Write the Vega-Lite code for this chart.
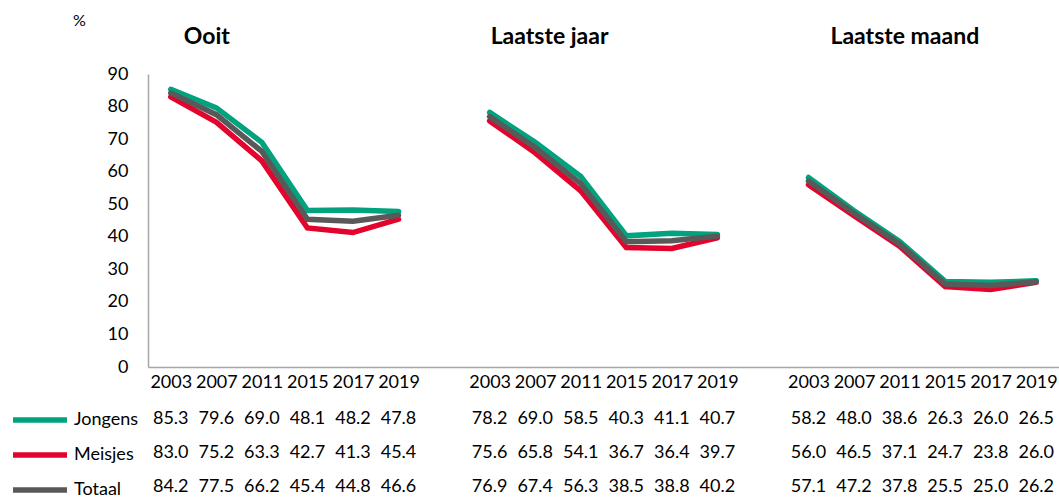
{
  "$schema": "https://vega.github.io/schema/vega-lite/v6.json",
  "background": "white",
  "padding": {"left": 10, "top": 12, "right": 0, "bottom": 0},
  "bounds": "flush",
  "spacing": 52,
  "config": {
    "font": "Lato",
    "view": {"stroke": null},
    "axis": {"grid": false, "ticks": false, "tickSize": 0, "domainColor": "#A6A6A6", "domainWidth": 1.5, "labelColor": "#000000", "labelFontSize": 18, "labelFont": "Lato"},
    "text": {"font": "Lato", "color": "#000000"}
  },
  "datasets": {
    "values": [
      {"group": "Ooit", "year": "2003", "series": "Jongens", "value": 85.3},
      {"group": "Ooit", "year": "2007", "series": "Jongens", "value": 79.6},
      {"group": "Ooit", "year": "2011", "series": "Jongens", "value": 69.0},
      {"group": "Ooit", "year": "2015", "series": "Jongens", "value": 48.1},
      {"group": "Ooit", "year": "2017", "series": "Jongens", "value": 48.2},
      {"group": "Ooit", "year": "2019", "series": "Jongens", "value": 47.8},
      {"group": "Laatste jaar", "year": "2003", "series": "Jongens", "value": 78.2},
      {"group": "Laatste jaar", "year": "2007", "series": "Jongens", "value": 69.0},
      {"group": "Laatste jaar", "year": "2011", "series": "Jongens", "value": 58.5},
      {"group": "Laatste jaar", "year": "2015", "series": "Jongens", "value": 40.3},
      {"group": "Laatste jaar", "year": "2017", "series": "Jongens", "value": 41.1},
      {"group": "Laatste jaar", "year": "2019", "series": "Jongens", "value": 40.7},
      {"group": "Laatste maand", "year": "2003", "series": "Jongens", "value": 58.2},
      {"group": "Laatste maand", "year": "2007", "series": "Jongens", "value": 48.0},
      {"group": "Laatste maand", "year": "2011", "series": "Jongens", "value": 38.6},
      {"group": "Laatste maand", "year": "2015", "series": "Jongens", "value": 26.3},
      {"group": "Laatste maand", "year": "2017", "series": "Jongens", "value": 26.0},
      {"group": "Laatste maand", "year": "2019", "series": "Jongens", "value": 26.5},
      {"group": "Ooit", "year": "2003", "series": "Meisjes", "value": 83.0},
      {"group": "Ooit", "year": "2007", "series": "Meisjes", "value": 75.2},
      {"group": "Ooit", "year": "2011", "series": "Meisjes", "value": 63.3},
      {"group": "Ooit", "year": "2015", "series": "Meisjes", "value": 42.7},
      {"group": "Ooit", "year": "2017", "series": "Meisjes", "value": 41.3},
      {"group": "Ooit", "year": "2019", "series": "Meisjes", "value": 45.4},
      {"group": "Laatste jaar", "year": "2003", "series": "Meisjes", "value": 75.6},
      {"group": "Laatste jaar", "year": "2007", "series": "Meisjes", "value": 65.8},
      {"group": "Laatste jaar", "year": "2011", "series": "Meisjes", "value": 54.1},
      {"group": "Laatste jaar", "year": "2015", "series": "Meisjes", "value": 36.7},
      {"group": "Laatste jaar", "year": "2017", "series": "Meisjes", "value": 36.4},
      {"group": "Laatste jaar", "year": "2019", "series": "Meisjes", "value": 39.7},
      {"group": "Laatste maand", "year": "2003", "series": "Meisjes", "value": 56.0},
      {"group": "Laatste maand", "year": "2007", "series": "Meisjes", "value": 46.5},
      {"group": "Laatste maand", "year": "2011", "series": "Meisjes", "value": 37.1},
      {"group": "Laatste maand", "year": "2015", "series": "Meisjes", "value": 24.7},
      {"group": "Laatste maand", "year": "2017", "series": "Meisjes", "value": 23.8},
      {"group": "Laatste maand", "year": "2019", "series": "Meisjes", "value": 26.0},
      {"group": "Ooit", "year": "2003", "series": "Totaal", "value": 84.2},
      {"group": "Ooit", "year": "2007", "series": "Totaal", "value": 77.5},
      {"group": "Ooit", "year": "2011", "series": "Totaal", "value": 66.2},
      {"group": "Ooit", "year": "2015", "series": "Totaal", "value": 45.4},
      {"group": "Ooit", "year": "2017", "series": "Totaal", "value": 44.8},
      {"group": "Ooit", "year": "2019", "series": "Totaal", "value": 46.6},
      {"group": "Laatste jaar", "year": "2003", "series": "Totaal", "value": 76.9},
      {"group": "Laatste jaar", "year": "2007", "series": "Totaal", "value": 67.4},
      {"group": "Laatste jaar", "year": "2011", "series": "Totaal", "value": 56.3},
      {"group": "Laatste jaar", "year": "2015", "series": "Totaal", "value": 38.5},
      {"group": "Laatste jaar", "year": "2017", "series": "Totaal", "value": 38.8},
      {"group": "Laatste jaar", "year": "2019", "series": "Totaal", "value": 40.2},
      {"group": "Laatste maand", "year": "2003", "series": "Totaal", "value": 57.1},
      {"group": "Laatste maand", "year": "2007", "series": "Totaal", "value": 47.2},
      {"group": "Laatste maand", "year": "2011", "series": "Totaal", "value": 37.8},
      {"group": "Laatste maand", "year": "2015", "series": "Totaal", "value": 25.5},
      {"group": "Laatste maand", "year": "2017", "series": "Totaal", "value": 25.0},
      {"group": "Laatste maand", "year": "2019", "series": "Totaal", "value": 26.2}
    ],
    "titles": [
      {"group": "Ooit", "year": "2003", "label": "Ooit"},
      {"group": "Laatste jaar", "year": "2003", "label": "Laatste jaar"},
      {"group": "Laatste maand", "year": "2003", "label": "Laatste maand"}
    ]
  },
  "vconcat": [
    {
      "width": 911,
      "height": 293,
      "layer": [
        {
          "data": {"name": "values"},
          "transform": [
            {"calculate": "datum.group + '|' + datum.year", "as": "cat"},
            {"filter": "datum.series === 'Meisjes'"}
          ],
          "mark": {"type": "line", "strokeWidth": 5.5, "strokeCap": "round", "strokeJoin": "miter"},
          "encoding": {
            "x": {"field": "cat", "type": "ordinal"},
            "y": {"field": "value", "type": "quantitative"},
            "detail": {"field": "group"}
          }
        },
        {
          "data": {"name": "values"},
          "transform": [
            {"calculate": "datum.group + '|' + datum.year", "as": "cat"},
            {"filter": "datum.series === 'Jongens'"}
          ],
          "mark": {"type": "line", "strokeWidth": 5.5, "strokeCap": "round", "strokeJoin": "miter"},
          "encoding": {
            "x": {"field": "cat", "type": "ordinal"},
            "y": {"field": "value", "type": "quantitative"},
            "detail": {"field": "group"}
          }
        },
        {
          "data": {"name": "values"},
          "transform": [
            {"calculate": "datum.group + '|' + datum.year", "as": "cat"},
            {"filter": "datum.series === 'Totaal'"}
          ],
          "mark": {"type": "line", "strokeWidth": 5.5, "strokeCap": "round", "strokeJoin": "miter"},
          "encoding": {
            "x": {"field": "cat", "type": "ordinal"},
            "y": {"field": "value", "type": "quantitative"},
            "detail": {"field": "group"}
          }
        },
        {
          "data": {"name": "titles"},
          "transform": [
            {"calculate": "datum.group + '|' + datum.year", "as": "cat"},
            {"filter": "datum.group === 'Ooit'"}
          ],
          "mark": {"type": "text", "fontWeight": "bold", "fontSize": 23, "align": "left", "baseline": "middle", "dx": 13},
          "encoding": {
            "x": {"field": "cat", "type": "ordinal"},
            "y": {"datum": 101.5},
            "text": {"field": "label"},
            "color": {"value": "#000000"}
          }
        },
        {
          "data": {"name": "titles"},
          "transform": [
            {"calculate": "datum.group + '|' + datum.year", "as": "cat"},
            {"filter": "datum.group === 'Laatste jaar'"}
          ],
          "mark": {"type": "text", "fontWeight": "bold", "fontSize": 23, "align": "left", "baseline": "middle", "dx": 1},
          "encoding": {
            "x": {"field": "cat", "type": "ordinal"},
            "y": {"datum": 101.5},
            "text": {"field": "label"},
            "color": {"value": "#000000"}
          }
        },
        {
          "data": {"name": "titles"},
          "transform": [
            {"calculate": "datum.group + '|' + datum.year", "as": "cat"},
            {"filter": "datum.group === 'Laatste maand'"}
          ],
          "mark": {"type": "text", "fontWeight": "bold", "fontSize": 23, "align": "left", "baseline": "middle", "dx": 22},
          "encoding": {
            "x": {"field": "cat", "type": "ordinal"},
            "y": {"datum": 101.5},
            "text": {"field": "label"},
            "color": {"value": "#000000"}
          }
        }
      ],
      "encoding": {
        "x": {
          "field": "cat", "type": "ordinal",
          "scale": {"type": "point", "padding": 0.5, "domain": ["Ooit|2003", "Ooit|2007", "Ooit|2011", "Ooit|2015", "Ooit|2017", "Ooit|2019", "gap1", "Laatste jaar|2003", "Laatste jaar|2007", "Laatste jaar|2011", "Laatste jaar|2015", "Laatste jaar|2017", "Laatste jaar|2019", "gap2", "Laatste maand|2003", "Laatste maand|2007", "Laatste maand|2011", "Laatste maand|2015", "Laatste maand|2017", "Laatste maand|2019"]},
          "axis": {"title": null, "labelAngle": 0, "labelPadding": 6, "labelExpr": "indexof(datum.value, '|') > 0 ? split(datum.value, '|')[1] : ''"}
        },
        "y": {
          "type": "quantitative",
          "scale": {"domain": [0, 90], "nice": false},
          "axis": {"values": [0, 10, 20, 30, 40, 50, 60, 70, 80, 90], "labelPadding": 20, "title": "%", "titleAngle": 0, "titleX": -69, "titleY": -54, "titleAlign": "center", "titleBaseline": "middle", "titleFontWeight": "normal", "titleFontSize": 16, "titleFont": "Lato", "titleColor": "#000000"}
        },
        "color": {
          "field": "series", "type": "nominal",
          "scale": {"domain": ["Jongens", "Meisjes", "Totaal"], "range": ["#00A37E", "#E3032C", "#595959"]},
          "legend": {"orient": "none", "legendX": -138, "legendY": 333, "direction": "vertical", "title": null, "symbolType": "M-1,0H4.4", "symbolSize": 400, "symbolStrokeWidth": 5.5, "labelFontSize": 18, "labelFont": "Lato", "labelColor": "#000000", "labelOffset": 38, "rowPadding": 11}
        }
      }
    },
    {
      "width": 911,
      "height": 68,
      "data": {"name": "values"},
      "transform": [{"calculate": "datum.group + '|' + datum.year", "as": "cat"}],
      "mark": {"type": "text", "fontSize": 18, "baseline": "middle", "align": "center"},
      "encoding": {
        "x": {
          "field": "cat", "type": "ordinal",
          "scale": {"type": "point", "padding": 0.5, "domain": ["Ooit|2003", "Ooit|2007", "Ooit|2011", "Ooit|2015", "Ooit|2017", "Ooit|2019", "gap1", "Laatste jaar|2003", "Laatste jaar|2007", "Laatste jaar|2011", "Laatste jaar|2015", "Laatste jaar|2017", "Laatste jaar|2019", "gap2", "Laatste maand|2003", "Laatste maand|2007", "Laatste maand|2011", "Laatste maand|2015", "Laatste maand|2017", "Laatste maand|2019"]},
          "axis": null
        },
        "y": {
          "field": "series", "type": "nominal",
          "scale": {"type": "point", "padding": 0, "domain": ["Jongens", "Meisjes", "Totaal"]},
          "axis": null
        },
        "text": {"field": "value", "type": "quantitative", "format": ".1f"}
      }
    }
  ]
}
